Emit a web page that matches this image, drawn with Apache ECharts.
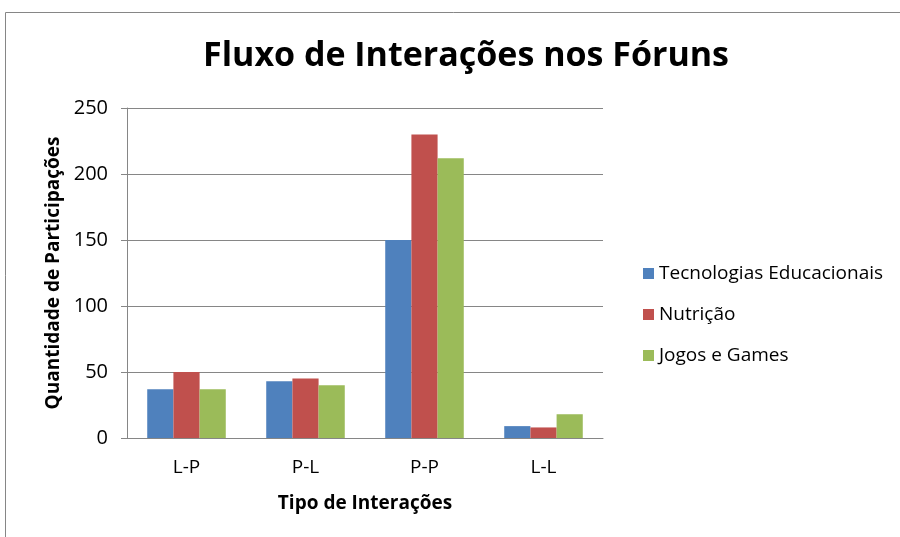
<!DOCTYPE html>
<html><head><meta charset="utf-8">
<script src="https://cdn.jsdelivr.net/npm/echarts@6/dist/echarts.min.js"></script>
<style>html,body{margin:0;padding:0;background:#fff}#c{width:900px;height:537px}</style>
</head><body><div id="c"></div>
<script>
const categories = ['L-P', 'P-L', 'P-P', 'L-L'];
const seriesNames = ['Tecnologias Educacionais', 'Nutrição', 'Jogos e Games'];
const tecnologias = [37, 43, 150, 9];
const nutricao = [50, 45, 230, 8];
const jogos = [37, 40, 212, 18];
const colors = ['#4F81BD', '#C0504D', '#9BBB59'];
const FONT = '"Open Sans", "Liberation Sans", sans-serif';
const chart = echarts.init(document.getElementById('c'));
const values = [tecnologias, nutricao, jogos];
chart.setOption({
  animation: false,
  title: {
    text: 'Fluxo de Interações nos Fóruns',
    left: 461, top: 34, textAlign: 'center',
    textStyle: {fontFamily: FONT, fontWeight: 'bold', fontSize: 34, color: '#000'}
  },
  graphic: [{type: 'rect', shape: {x: 5.5, y: 12.5, width: 1000, height: 1000},
    style: {fill: 'none', stroke: '#868686', lineWidth: 1}, silent: true}],
  legend: {
    orient: 'vertical', left: 638, top: 259, itemGap: 22, itemWidth: 11, itemHeight: 11,
    icon: 'rect',
    textStyle: {fontFamily: FONT, fontSize: 19, color: '#000'},
    data: seriesNames
  },
  grid: {left: 127, right: 297, top: 108, bottom: 99},
  xAxis: {
    type: 'category', data: categories,
    name: 'Tipo de Interações', nameLocation: 'middle', nameGap: 56,
    nameTextStyle: {fontFamily: FONT, fontWeight: 'bold', fontSize: 19, color: '#000'},
    axisLine: {lineStyle: {color: '#868686'}},
    axisTick: {show: false},
    axisLabel: {fontFamily: FONT, fontSize: 19, color: '#000', margin: 20}
  },
  yAxis: {
    type: 'value', min: 0, max: 250, interval: 50,
    name: 'Quantidade de Participações', nameLocation: 'middle', nameGap: 64,
    nameTextStyle: {fontFamily: FONT, fontWeight: 'bold', fontSize: 19, color: '#000'},
    axisLine: {show: true, lineStyle: {color: '#868686'}},
    axisTick: {show: true, length: 6, lineStyle: {color: '#868686'}},
    splitLine: {lineStyle: {color: '#868686'}},
    axisLabel: {fontFamily: FONT, fontSize: 20, color: '#000', margin: 19}
  },
  series: seriesNames.map((n, i) => ({
    name: n, type: 'bar', data: values[i], barGap: '0%', barCategoryGap: '34%',
    itemStyle: {color: colors[i]}
  }))
});
</script></body></html>
